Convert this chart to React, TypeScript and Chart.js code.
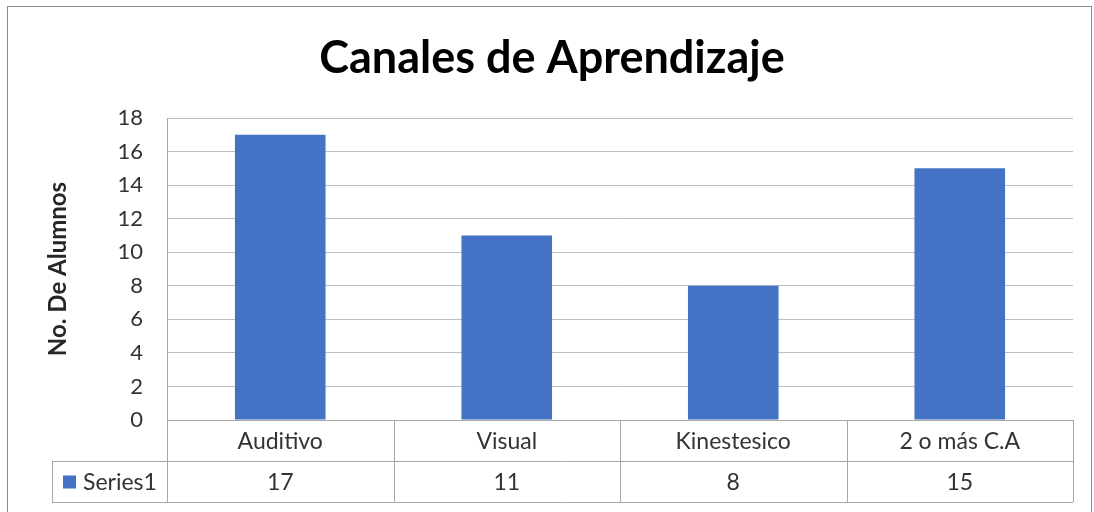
import React, { useEffect, useRef } from "react";
import { Chart, registerables } from "chart.js";

Chart.register(...registerables);

const chartTitle = "Canales de Aprendizaje";
const yAxisTitle = "No. De Alumnos";
const categories = ["Auditivo", "Visual", "Kinestesico", "2 o más C.A"];
const seriesName = "Series1";
const seriesValues = [17, 11, 8, 15];
const yMin = 0;
const yMax = 18;
const yStep = 2;

const FONT = "Lato, 'Open Sans', 'Liberation Sans', sans-serif";
const BAR_COLOR = "#4472C4";
const GRID_COLOR = "#BFBFBF";
const TABLE_COLOR = "#A6A6A6";
const TEXT_COLOR = "#333333";

const W = 1094;
const H = 512;

export default function App() {
  const ref = useRef<HTMLCanvasElement>(null);

  useEffect(() => {
    if (!ref.current) return;

    const decor = {
      id: "excelDecor",
      beforeDraw(chart: any) {
        const ctx = chart.ctx;
        ctx.save();
        ctx.fillStyle = "#FFFFFF";
        ctx.fillRect(0, 0, W, H);
        ctx.strokeStyle = "#8C8C8C";
        ctx.lineWidth = 1;
        ctx.strokeRect(7.5, 6.5, 1084, 520);
        ctx.restore();
      },
      afterDraw(chart: any) {
        const ctx = chart.ctx;
        const { left, right, bottom } = chart.chartArea;
        const xs = chart.scales.x;
        const n = categories.length;
        const colW = (right - left) / n;
        const row1Bottom = bottom + 41;
        const row2Bottom = bottom + 82;
        const legendLeft = 52;

        ctx.save();
        // Title
        ctx.fillStyle = "#000000";
        ctx.font = `bold 45px ${FONT}`;
        ctx.textAlign = "center";
        ctx.textBaseline = "middle";
        ctx.fillText(chartTitle, 552, 58);

        // Data table lines
        ctx.strokeStyle = TABLE_COLOR;
        ctx.lineWidth = 1;
        const hl = (x1: number, x2: number, y: number) => {
          ctx.beginPath();
          ctx.moveTo(x1, Math.round(y) + 0.5);
          ctx.lineTo(x2, Math.round(y) + 0.5);
          ctx.stroke();
        };
        const vl = (x: number, y1: number, y2: number) => {
          ctx.beginPath();
          ctx.moveTo(Math.round(x) + 0.5, y1);
          ctx.lineTo(Math.round(x) + 0.5, y2);
          ctx.stroke();
        };
        hl(left, right, bottom);
        hl(legendLeft, right, row1Bottom);
        hl(legendLeft, right, row2Bottom);
        for (let i = 0; i <= n; i++) {
          const x = i < n ? xs.getPixelForValue(i) - colW / 2 : xs.getPixelForValue(n - 1) + colW / 2;
          vl(x, bottom, row2Bottom);
        }
        vl(legendLeft, row1Bottom, row2Bottom);

        // Table text
        ctx.fillStyle = TEXT_COLOR;
        ctx.font = `23px ${FONT}`;
        ctx.textAlign = "center";
        ctx.textBaseline = "middle";
        categories.forEach((c, i) => {
          const x = xs.getPixelForValue(i);
          ctx.fillText(c, x, (bottom + row1Bottom) / 2 + 1);
          ctx.fillText(String(seriesValues[i]), x, (row1Bottom + row2Bottom) / 2 + 1);
        });

        // Legend key
        ctx.fillStyle = BAR_COLOR;
        ctx.fillRect(63, (row1Bottom + row2Bottom) / 2 - 6, 13, 13);
        ctx.fillStyle = TEXT_COLOR;
        ctx.textAlign = "left";
        ctx.fillText(seriesName, 83, (row1Bottom + row2Bottom) / 2 + 1);
        ctx.restore();
      },
    };

    const chart = new Chart(ref.current, {
      type: "bar",
      data: {
        labels: categories,
        datasets: [
          {
            label: seriesName,
            data: seriesValues,
            backgroundColor: BAR_COLOR,
            borderWidth: 0,
            categoryPercentage: 1,
            barPercentage: 0.4,
          },
        ],
      },
      options: {
        responsive: false,
        animation: false,
        layout: { padding: { left: 40, right: 21, top: 118, bottom: 92 } },
        plugins: {
          legend: { display: false },
          title: { display: false },
          tooltip: { enabled: false },
        },
        scales: {
          x: { display: false },
          y: {
            min: yMin,
            max: yMax,
            afterFit(scale: any) {
              scale.width = 127;
            },
            ticks: {
              stepSize: yStep,
              padding: 24,
              color: TEXT_COLOR,
              font: { family: FONT, size: 22 },
            },
            grid: { color: GRID_COLOR, drawTicks: false, lineWidth: 1 },
            border: { color: TABLE_COLOR, width: 1 },
            title: {
              display: true,
              text: yAxisTitle,
              color: "#262626",
              font: { family: FONT, size: 24, weight: "bold" },
              padding: { top: 4, bottom: 4 },
            },
          },
        },
      },
      plugins: [decor],
    });

    return () => chart.destroy();
  }, []);

  return (
    <div style={{ position: "fixed", left: 0, top: 0, width: W, height: H, background: "#fff" }}>
      <canvas ref={ref} width={W} height={H} style={{ display: "block", width: W, height: H }} />
    </div>
  );
}
